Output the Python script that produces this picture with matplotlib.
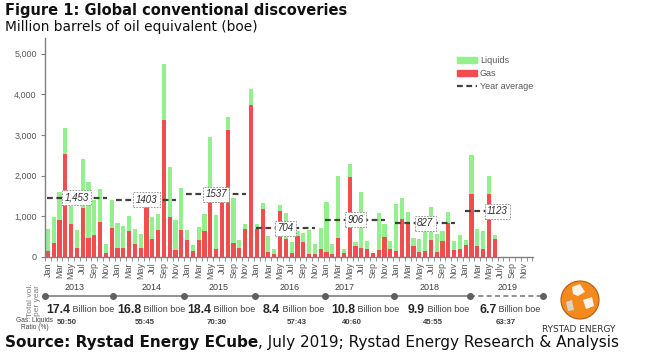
import numpy as np
import matplotlib
matplotlib.use('Agg')
import matplotlib.pyplot as plt
from matplotlib.patches import Patch, Circle, Polygon
from matplotlib.lines import Line2D
from matplotlib.ticker import FuncFormatter

# monthly discoveries, Jan 2013 .. Dec 2019 (million boe); 2019 data ends in June
gas = [140, 344, 893, 2541, 803, 213, 1205, 467, 533, 852, 82, 697,
       213, 213, 639, 311, 213, 1320, 443, 656, 3370, 967, 164, 656,
       410, 139, 410, 639, 1440, 195, 1420, 3115, 328, 225, 689, 3740,
       676, 1173, 111, 74, 1133, 434, 98, 500, 352, 66, 66, 189,
       115, 66, 451, 82, 1967, 270, 213, 197, 90, 164, 492, 189,
       139, 926, 861, 270, 107, 131, 418, 107, 385, 820, 164, 189,
       287, 1541, 270, 189, 1541, 434, 0, 0, 0, 0, 0, 0]
total = [680, 975, 1600, 3172, 1254, 656, 2418, 1844, 1393, 1664, 311, 1393,
         830, 760, 1010, 690, 570, 1320, 980, 1040, 4738, 2220, 910, 1690,
         656, 287, 721, 1049, 2943, 1025, 1440, 3440, 1440, 400, 810, 4140,
         806, 1313, 520, 186, 1268, 1083, 369, 639, 582, 656, 303, 713,
         1352, 311, 1984, 180, 2295, 369, 1582, 385, 100, 1066, 803, 385,
         1300, 1443, 1110, 460, 430, 690, 1215, 570, 630, 1090, 380, 545,
         410, 2500, 672, 631, 1983, 533, 0, 0, 0, 0, 0, 0]
liquids = [t - g for t, g in zip(total, gas)]

years = ['2013', '2014', '2015', '2016', '2017', '2018', '2019']
year_avg = [1453, 1403, 1537, 704, 906, 827, 1123]
avg_labels = ['1,453', '1403', '1537', '704', '906', '827', '1123']
year_total = ['17.4', '16.8', '18.4', '8.4', '10.8', '9.9', '6.7']
ratio = ['50:50', '55:45', '70:30', '57:43', '40:60', '45:55', '63:37']
months = ['Jan', 'Mar', 'May', 'Jul', 'Sep', 'Nov']

GREEN = '#93F08D'
RED = '#F04E4E'
GREY = '#595959'
CHART_FONT = 'Liberation Sans'

fig = plt.figure(figsize=(6.7, 3.53), dpi=100)
W, H = 670, 353

ax = fig.add_axes([45 / W, 1 - 256.7 / H, 488 / W, 219.2 / H])
x = np.arange(len(gas))
ax.bar(x, gas, width=0.72, color=RED, zorder=2)
ax.bar(x, liquids, width=0.72, bottom=gas, color=GREEN, zorder=2)

ax.set_xlim(-0.5, 83.6)
ax.set_ylim(0, 5400)
ax.set_yticks([0, 1000, 2000, 3000, 4000, 5000])
ax.yaxis.set_major_formatter(FuncFormatter(lambda v, p: f'{int(v):,}'))
for s in ['top', 'right']:
    ax.spines[s].set_visible(False)
for s in ['left', 'bottom']:
    ax.spines[s].set_color('#808080')
    ax.spines[s].set_linewidth(1.0)
ax.tick_params(axis='y', labelsize=6.5, labelcolor=GREY, color='#808080', length=3, pad=3)
for lbl in ax.get_yticklabels():
    lbl.set_fontfamily(CHART_FONT)

xlabels = []
for i in range(0, 84, 2):
    m = months[(i % 12) // 2]
    if i >= 72 and m == 'Jul':
        m = 'July'
    xlabels.append(m)
ax.set_xticks(np.arange(0, 84, 2))
ax.set_xticklabels(xlabels, rotation=90, fontsize=6.5, color=GREY, family=CHART_FONT)
ax.tick_params(axis='x', which='major', length=0, pad=4)
ax.set_xticks(np.arange(-0.5, 84, 1), minor=True)
ax.tick_params(axis='x', which='minor', length=3, color='#808080')

# year averages
for k in range(7):
    start = 12 * k - 0.2
    end = start + (3.8 if k == 6 else 10.3)
    ax.plot([start, end], [year_avg[k], year_avg[k]], color='#404040', lw=1.6,
            ls=(0, (2.6, 1.6)), zorder=3)
    lx = 12 * k + (5.5 if k == 6 else 5.0)
    ax.text(lx, year_avg[k], avg_labels[k], ha='center', va='center', fontsize=7,
            style='italic', family=CHART_FONT, color='#303030', zorder=4,
            bbox=dict(boxstyle='square,pad=0.25', fc='white', ec='#8a8a8a',
                      ls=(0, (2, 1.5)), lw=0.6))

handles = [Patch(color=GREEN, label='Liquids'), Patch(color=RED, label='Gas'),
           Line2D([], [], color='#404040', lw=1.6, ls=(0, (2.6, 1.6)), label='Year average')]
ax.legend(handles=handles, loc='upper left', bbox_to_anchor=(0.845, 0.915),
          frameon=False, borderaxespad=0, borderpad=0, handlelength=2.2,
          handleheight=0.5, handletextpad=0.3, labelspacing=0.45,
          prop={'family': CHART_FONT, 'size': 6.5}, labelcolor=GREY)

# overlay in pixel coordinates
ov = fig.add_axes([0, 0, 1, 1])
ov.set_xlim(0, W)
ov.set_ylim(H, 0)
ov.axis('off')

ov.text(5, 11, 'Figure 1: Global conventional discoveries', fontsize=10.5, weight='bold',
        family='DejaVu Sans', va='center', color='#111111')
ov.text(5, 27, 'Million barrels of oil equivalent (boe)', fontsize=9.9,
        family='DejaVu Sans', va='center', color='#111111')

# timeline of yearly totals
dots = [45, 113.3, 184, 255, 325, 394.3, 470, 543]
ov.plot([dots[0], dots[6]], [296, 296], color='#7f7f7f', lw=1.2)
ov.plot([dots[6], dots[7]], [296, 296], color='#7f7f7f', lw=1.2, ls=(0, (3, 2)))
ov.plot(dots, [296] * len(dots), 'o', color='#5f5f5f', ms=4)

year_x = [75, 151.7, 219, 290, 345, 430, 508]
total_x = [46, 117, 187, 263, 331, 408, 479]
ratio_x = [67, 145, 217, 297, 352, 433, 506]
for k in range(7):
    ov.text(year_x[k], 288, years[k], ha='center', va='center', fontsize=6.5,
            family=CHART_FONT, color='#404040')
    t = ov.text(total_x[k], 313, year_total[k], ha='left', va='baseline', fontsize=8.8,
                weight='bold', family=CHART_FONT, color='#262626')
    ov.annotate(' Billion boe', xy=(1, 0), xycoords=t, xytext=(0, 1.8),
                textcoords='offset points', ha='left', va='bottom', fontsize=6.5,
                family=CHART_FONT, color='#404040')
    ov.text(ratio_x[k], 323, ratio[k], ha='center', va='center', fontsize=5.7,
            weight='bold', family=CHART_FONT, color='#404040')

ov.text(34, 300, 'Total vol.\nper year', rotation=90, ha='center', va='center',
        fontsize=6, family=CHART_FONT, color='#7f7f7f', linespacing=1.0)
ov.text(35, 324, 'Gas: Liquids\nRatio (%)', ha='center', va='center', fontsize=4.8,
        family=CHART_FONT, color='#404040', linespacing=1.1)

# logo
ov.add_patch(Circle((580, 300), 19, fc='#F28A1E', ec='#B85A10', lw=0.8))
ov.add_patch(Polygon([[572, 287], [580, 284], [585, 292], [578, 296], [573, 294]],
                     fc='white', ec='none', alpha=0.9))
ov.add_patch(Polygon([[583, 300], [592, 297], [594, 306], [586, 309]],
                     fc='white', ec='none', alpha=0.9))
ov.add_patch(Polygon([[566, 302], [572, 300], [574, 310], [568, 311]],
                     fc='#d9d9d9', ec='none', alpha=0.9))
ov.text(579, 329, 'RYSTAD ENERGY', ha='center', va='center', fontsize=6.5,
        family='DejaVu Sans', color='#333333')

t = ov.text(5, 343, 'Source: Rystad Energy ECube', fontsize=11, weight='bold',
            family='DejaVu Sans', va='center', color='#111111')
ov.annotate(', July 2019; Rystad Energy Research & Analysis', xy=(1, 0.5), xycoords=t,
            va='center', ha='left', fontsize=11, family='DejaVu Sans', color='#111111')

fig.savefig('out.png', dpi=100)
